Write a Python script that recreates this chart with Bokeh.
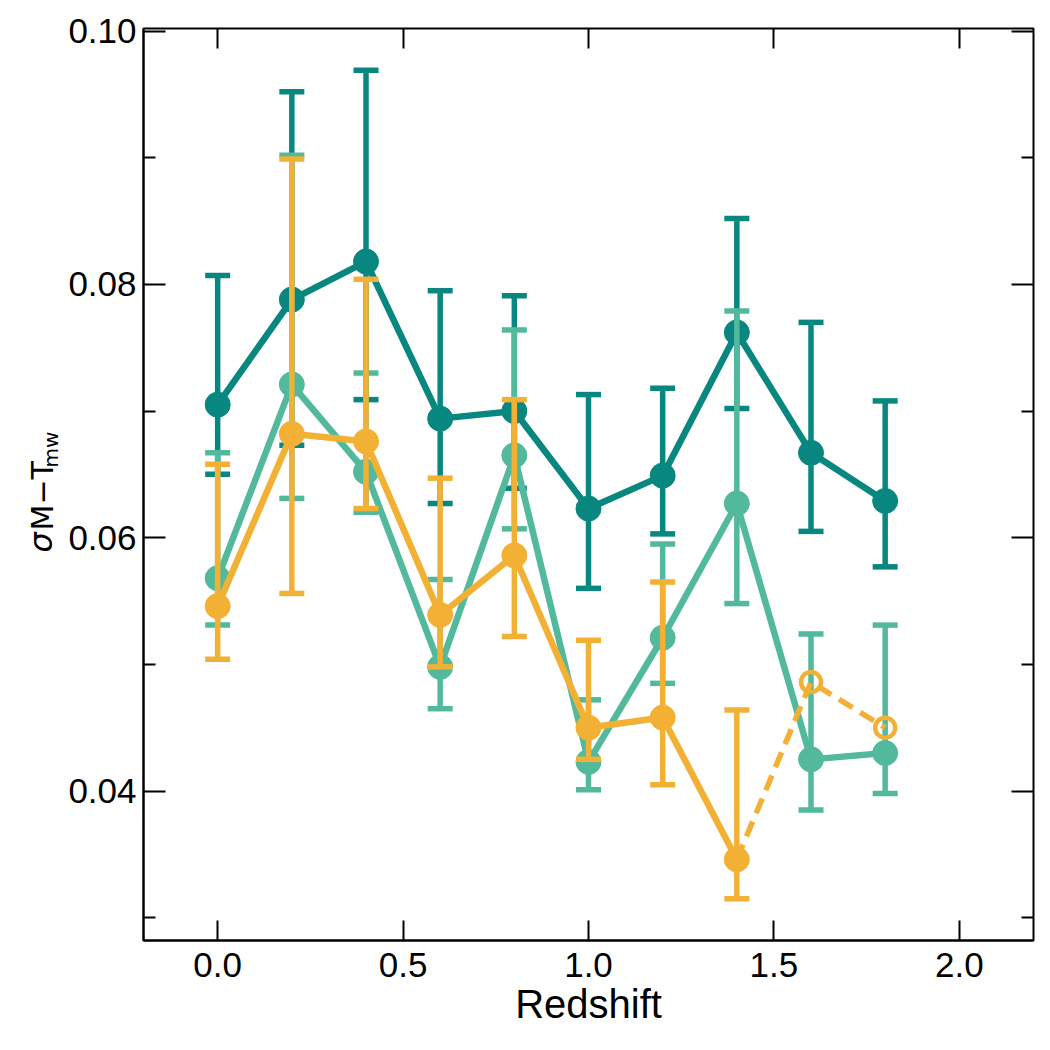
from math import pi
from bokeh.plotting import figure
from bokeh.layouts import row
from bokeh.models import Range1d, FixedTicker, LinearAxis, PrintfTickFormatter, CustomJSTickFormatter
from bokeh.core.properties import value
from bokeh.embed import file_html
from bokeh.resources import INLINE

# ---------------- data ----------------
redshift = [0.0, 0.2, 0.4, 0.6, 0.8, 1.0, 1.2, 1.4, 1.6, 1.8]

dark_y = [0.0705, 0.0788, 0.0818, 0.0694, 0.0700, 0.0623, 0.0649, 0.0762, 0.0667, 0.0629]
dark_hi = [0.0807, 0.0952, 0.0969, 0.0795, 0.0791, 0.0713, 0.0718, 0.0852, 0.0770, 0.0708]
dark_lo = [0.0650, 0.0673, 0.0709, 0.0627, 0.0639, 0.0560, 0.0603, 0.0702, 0.0605, 0.0577]

light_y = [0.0568, 0.0721, 0.0652, 0.0498, 0.0665, 0.0423, 0.0521, 0.0627, 0.0425, 0.0430]
light_hi = [0.0667, 0.0902, 0.0730, 0.0567, 0.0764, 0.0472, 0.0595, 0.0779, 0.0524, 0.0531]
light_lo = [0.0531, 0.0631, 0.0620, 0.0465, 0.0607, 0.0401, 0.0485, 0.0548, 0.0385, 0.0398]

# orange: first 8 points are measured (filled, with errors), last 2 are open markers
orange_y = [0.0546, 0.0682, 0.0676, 0.0539, 0.0586, 0.0450, 0.0458, 0.0346, 0.0486, 0.0450]
orange_hi = [0.0658, 0.0899, 0.0804, 0.0647, 0.0709, 0.0519, 0.0565, 0.0464]
orange_lo = [0.0504, 0.0556, 0.0623, 0.0498, 0.0522, 0.0425, 0.0405, 0.0315]
n_filled = 8

y_major = [0.04, 0.06, 0.08, 0.10]
y_minor = [0.03, 0.05, 0.07, 0.09]
x_major = [0.0, 0.5, 1.0, 1.5, 2.0]

DARK = "#07877f"
LIGHT = "#52b99d"
ORANGE = "#f2b134"

TICK_FONT = "Liberation Sans"
LAB_W = 63
TOP, BOTTOM = 28, 110
Y0, Y1 = 0.0282, 0.1002

yr = Range1d(Y0, Y1)
p = figure(width=1050 - LAB_W, height=1050,
           x_range=Range1d(-0.2, 2.2), y_range=yr,
           output_backend="svg", toolbar_location=None,
           min_border_left=143 - LAB_W, min_border_right=17,
           min_border_top=TOP, min_border_bottom=BOTTOM)

p.xgrid.visible = False
p.ygrid.visible = False
p.outline_line_color = "black"
p.outline_line_width = 2
p.background_fill_color = "white"
p.border_fill_color = "white"

yt = FixedTicker(ticks=y_major, minor_ticks=y_minor)
xt = FixedTicker(ticks=x_major, minor_ticks=[])

for ax in p.yaxis:
    ax.ticker = yt
    ax.formatter = PrintfTickFormatter(format="%.2f")
for ax in p.xaxis:
    ax.ticker = xt
    ax.formatter = PrintfTickFormatter(format="%.1f")

def style_axis(ax, major_len, minor_len):
    ax.axis_line_width = 2
    ax.axis_line_color = "black"
    ax.major_tick_in = major_len
    ax.major_tick_out = 0
    ax.minor_tick_in = minor_len
    ax.minor_tick_out = 0
    ax.major_tick_line_width = 2
    ax.minor_tick_line_width = 2
    ax.major_tick_line_color = "black"
    ax.minor_tick_line_color = "black"
    ax.major_label_text_font = TICK_FONT
    ax.major_label_text_font_size = "35px"
    ax.major_label_text_color = "black"

style_axis(p.yaxis[0], 22, 12)
p.yaxis[0].major_label_standoff = 7
style_axis(p.xaxis[0], 20, 0)
p.xaxis[0].major_label_standoff = 12
p.xaxis[0].axis_label = "Redshift"
p.xaxis[0].axis_label_text_font = TICK_FONT
p.xaxis[0].axis_label_text_font_size = "40px"
p.xaxis[0].axis_label_text_font_style = "normal"
p.xaxis[0].axis_label_text_color = "black"
p.xaxis[0].axis_label_standoff = 2

empty = CustomJSTickFormatter(code="return ''")
right = LinearAxis(ticker=yt, formatter=empty)
style_axis(right, 22, 12)
right.axis_line_color = None
right.major_label_text_font_size = "1px"
right.major_label_standoff = 0
p.add_layout(right, "right")

top = LinearAxis(ticker=xt, formatter=empty)
style_axis(top, 20, 0)
top.axis_line_color = None
top.major_label_text_font_size = "1px"
top.major_label_standoff = 0
p.add_layout(top, "above")

# ---------------- series ----------------
def errorbars(xs, lo, hi, color):
    p.segment(x0=xs, y0=lo, x1=xs, y1=hi, line_color=color, line_width=5.5)
    p.scatter(x=xs, y=hi, marker="dash", size=25, line_color=color, line_width=5.5)
    p.scatter(x=xs, y=lo, marker="dash", size=25, line_color=color, line_width=5.5)

# dark teal
errorbars(redshift, dark_lo, dark_hi, DARK)
p.line(redshift, dark_y, line_color=DARK, line_width=6.5)
p.scatter(redshift, dark_y, marker="circle", size=25, fill_color=DARK, line_color=DARK, line_width=1)

# light teal
errorbars(redshift, light_lo, light_hi, LIGHT)
p.line(redshift, light_y, line_color=LIGHT, line_width=6.5)
p.scatter(redshift, light_y, marker="circle", size=25, fill_color=LIGHT, line_color=LIGHT, line_width=1)

# orange
zf = redshift[:n_filled]
yf = orange_y[:n_filled]
errorbars(zf, orange_lo, orange_hi, ORANGE)
p.line(zf, yf, line_color=ORANGE, line_width=6.5)
p.line(redshift[n_filled - 1:], orange_y[n_filled - 1:], line_color=ORANGE, line_width=5.5, line_dash="16 9")
p.scatter(zf, yf, marker="circle", size=25, fill_color=ORANGE, line_color=ORANGE, line_width=1)
p.scatter(redshift[n_filled:], orange_y[n_filled:], marker="circle", size=20,
          fill_color=None, line_color=ORANGE, line_width=4.5)

# ---------------- y label panel: sigma_{M-T_mw} ----------------
# the label panel shares the main plot's vertical range and borders so it lines up with the frame
lab = figure(width=LAB_W, height=1050, x_range=Range1d(0, LAB_W), y_range=yr,
             output_backend="svg", toolbar_location=None,
             min_border_left=0, min_border_right=0,
             min_border_top=TOP, min_border_bottom=BOTTOM,
             x_axis_type=None, y_axis_type=None)
lab.xgrid.visible = False
lab.ygrid.visible = False
lab.outline_line_color = None
lab.background_fill_color = "white"
lab.border_fill_color = "white"

FRAME_H = 1050 - TOP - BOTTOM
def px_to_y(sy):
    return Y1 - (sy - TOP) * (Y1 - Y0) / FRAME_H

lab_font = value("DejaVu Sans")
label_parts = ["σ", "M\u2212T", "mw"]
label_sizes = ["32px", "30px", "20px"]
label_styles = ["italic", "normal", "normal"]
label_px = [40, 42, 50]      # baseline position (px from left)
label_py = [552, 530, 467]   # start position (px from top)
for t, s, st, bx, by in zip(label_parts, label_sizes, label_styles, label_px, label_py):
    lab.text(x=[bx], y=[px_to_y(by)], text=[t], angle=pi / 2, text_font=lab_font,
             text_font_size=s, text_font_style=st, text_align="left",
             text_baseline="alphabetic", text_color="black")

layout = row(lab, p, spacing=0)
open("out.html", "w").write(file_html(layout, INLINE))
